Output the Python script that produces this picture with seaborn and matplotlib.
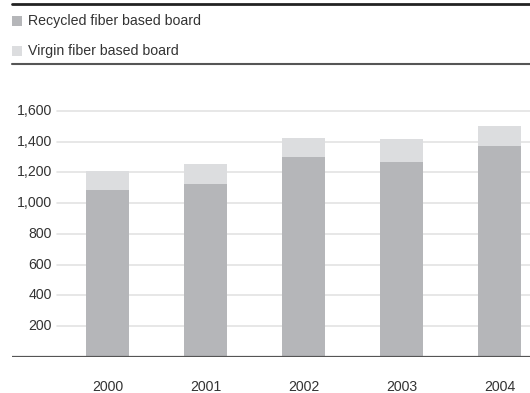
import pandas as pd
import matplotlib
matplotlib.use("Agg")
import matplotlib.pyplot as plt
from matplotlib.patches import Rectangle
from matplotlib.lines import Line2D
import seaborn as sns

# data
years = ['2000', '2001', '2002', '2003', '2004']
recycled = [1086, 1124, 1301, 1268, 1373]
virgin = [124, 131, 124, 150, 130]
yticks = [200, 400, 600, 800, 1000, 1200, 1400, 1600]

c_rec = '#b5b6b9'
c_vir = '#dcdddf'
c_txt = '#333333'

sns.set_style("white")
plt.rcParams['font.family'] = ['Liberation Sans', 'DejaVu Sans']

df = pd.DataFrame({'year': years, 'recycled': recycled, 'virgin': virgin})
df['total'] = df['recycled'] + df['virgin']

fig = plt.figure(figsize=(5.30, 3.93), dpi=100)
ax = fig.add_axes([12 / 530, (393 - 356.7) / 393, 518 / 530, 1650 * 0.1535 / 393])

sns.barplot(data=df, x='year', y='total', color=c_vir, width=0.44, saturation=1,
            linewidth=0, ax=ax, zorder=2)
sns.barplot(data=df, x='year', y='recycled', color=c_rec, width=0.44, saturation=1,
            linewidth=0, ax=ax, zorder=3)

ax.set_xlim(-0.974, 4.311)
ax.set_ylim(0, 1650)
for v in yticks:
    ax.axhline(v, xmin=0.087, color='#e3e3e3', lw=1.2, zorder=1)
    ax.text(0.077, v, f'{v:,}', transform=ax.get_yaxis_transform(), ha='right', va='center',
            fontsize=10.2, color=c_txt)
ax.axhline(0, color='#555555', lw=1.6, zorder=4)

ax.set_yticks([])
ax.set_xlabel('')
ax.set_ylabel('')
ax.tick_params(axis='x', length=0, pad=17, labelsize=10.2, labelcolor=c_txt)
sns.despine(ax=ax, left=True, bottom=True)

# legend block at the top
fig.add_artist(Line2D([12 / 530, 1], [1 - 4 / 393] * 2, color='#222222', lw=2))
fig.add_artist(Line2D([12 / 530, 1], [1 - 64 / 393] * 2, color='#555555', lw=1.5))
for yc, col, lab in [(21.3, c_rec, 'Recycled fiber based board'),
                     (51.3, c_vir, 'Virgin fiber based board')]:
    fig.add_artist(Rectangle((12 / 530, 1 - (yc + 5) / 393), 10 / 530, 10 / 393,
                             transform=fig.transFigure, color=col, lw=0))
    fig.text(28 / 530, 1 - yc / 393, lab, ha='left', va='center', fontsize=10.2, color=c_txt)

fig.savefig('out.png', dpi=100)
